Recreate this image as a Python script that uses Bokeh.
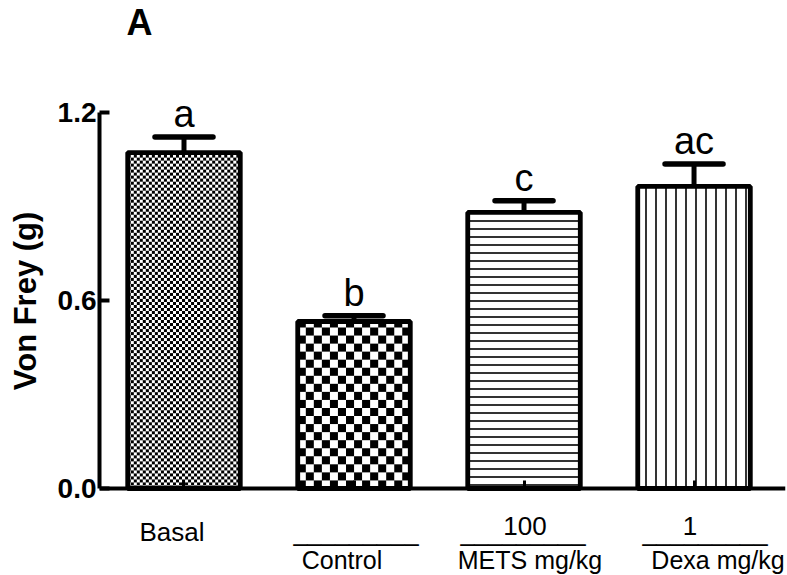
import numpy as np
from bokeh.plotting import figure
from bokeh.models import (ColumnDataSource, LabelSet, Label, Whisker, TeeHead,
                          FixedTicker, Range1d, PrintfTickFormatter,
                          CustomJSTickFormatter)
from bokeh.core.properties import value
from bokeh.embed import file_html
from bokeh.resources import INLINE

# ---- data ----
groups = ["Basal", "Control", "METS", "Dexa"]
means = [1.072, 0.533, 0.881, 0.964]
sems = [0.050, 0.018, 0.037, 0.072]
letters = ["a", "b", "c", "ac"]
doses = ["", "", "100", "1"]
names = ["", "Control", "METS mg/kg", "Dexa mg/kg"]
y_ticks = [0.0, 0.6, 1.2]

# ---- layout / style (not data) ----
W, H = 787, 575
FRAME_L, FRAME_R = 99, 785
X_START, X_END = -0.497, 3.538
Y_START, Y_END = -0.2777, 1.5575
BAR_W = 0.662
FONT = "Liberation Sans"
name_shift = [0, -12, 6, 24]
line_shift = [0, 2, -1, 11]
dose_shift = [0, 0, 1, -4]

px_x = (FRAME_R - FRAME_L) / (X_END - X_START)
px_y = H / (Y_END - Y_START)

xs = list(range(len(groups)))
src = ColumnDataSource(dict(
    x=xs, mean=means,
    upper=[m + s for m, s in zip(means, sems)],
    letter=letters,
    fill_alpha=[0, 0, 1, 1],
    pat=[" ", " ", "-", "|"],
    pscale=[8, 8, 8, 10],
))


def checker(cell, w_units, h_units):
    nx = int(round(w_units * px_x))
    ny = int(round(h_units * px_y))
    yy, xx = np.mgrid[0:ny, 0:nx]
    black = ((yy // cell + xx // cell) % 2) == 0
    img = np.empty((ny, nx), dtype=np.uint32)
    view = img.view(dtype=np.uint8).reshape((ny, nx, 4))
    view[..., 0:3] = np.where(black[..., None], 0, 255)
    view[..., 3] = 255
    return img


chk_idx = [0, 1]
chk_cells = [3, 8]
img_src = ColumnDataSource(dict(
    image=[checker(c, BAR_W, means[i]) for i, c in zip(chk_idx, chk_cells)],
    x=[xs[i] - BAR_W / 2 for i in chk_idx],
    y=[0, 0],
    dw=[BAR_W, BAR_W],
    dh=[means[i] for i in chk_idx],
))

p = figure(width=W, height=H, output_backend="svg", toolbar_location=None,
           x_range=Range1d(X_START, X_END), y_range=Range1d(Y_START, Y_END),
           min_border_left=FRAME_L, min_border_right=W - FRAME_R,
           min_border_top=0, min_border_bottom=0)
p.outline_line_color = None
p.xgrid.visible = False
p.ygrid.visible = False
p.background_fill_color = "white"
p.border_fill_color = "white"

p.image_rgba(image="image", x="x", y="y", dw="dw", dh="dh", source=img_src)

p.vbar(x="x", top="mean", width=BAR_W, source=src,
       fill_color="white", fill_alpha="fill_alpha",
       line_color="black", line_width=4.8,
       hatch_pattern="pat", hatch_scale="pscale", hatch_color="black",
       hatch_weight=1.6)

whisk = Whisker(base="x", lower="mean", upper="upper", source=src,
                line_width=5, line_color="black",
                upper_head=TeeHead(size=58, line_width=5.5, line_color="black",
                                   line_cap="round"),
                lower_head=None, level="glyph")
p.add_layout(whisk)

# significance letters
p.add_layout(LabelSet(x="x", y="upper", text="letter", source=src,
                      y_offset=10, text_align="center", text_baseline="alphabetic",
                      text_font=value(FONT), text_font_size="38px", text_color="black"))


def row_source(texts, shifts):
    keep = [i for i, t in enumerate(texts) if t]
    return ColumnDataSource(dict(x=[xs[i] for i in keep],
                                 text=[texts[i] for i in keep],
                                 dx=[shifts[i] for i in keep]))


basal_src = row_source([groups[0], "", "", ""], [-12, 0, 0, 0])
dose_src = row_source(doses, dose_shift)
line_src = row_source(["", "_________", "_________", "_________"], line_shift)
name_src = row_source(names, name_shift)

common = dict(text_font=value(FONT), text_color="black", x_offset="dx",
              text_align="center")
p.add_layout(LabelSet(x="x", y=-0.1404, text="text", source=basal_src,
                      text_baseline="middle", text_font_size="26px", **common))
p.add_layout(LabelSet(x="x", y=-0.1213, text="text", source=dose_src,
                      text_baseline="middle", text_font_size="26px", **common))
p.add_layout(LabelSet(x="x", y=-0.166, text="text", source=line_src,
                      text_baseline="alphabetic", text_font_size="25px", **common))
p.add_layout(LabelSet(x="x", y=-0.2585, text="text", source=name_src,
                      text_baseline="alphabetic", text_font_size="25px", **common))

# panel letter
p.add_layout(Label(x=-0.262, y=1.487, text="A", text_align="center",
                   text_baseline="middle", text_font=FONT, text_font_size="36px",
                   text_font_style="bold", text_color="black"))

# axes
p.yaxis.bounds = (y_ticks[0], y_ticks[-1])
p.yaxis.ticker = FixedTicker(ticks=y_ticks)
p.yaxis.formatter = PrintfTickFormatter(format="%.1f")
p.yaxis.minor_tick_line_color = None
p.yaxis.axis_line_width = 4
p.yaxis.major_tick_line_width = 4
p.yaxis.major_tick_in = 10
p.yaxis.major_tick_out = 0
p.yaxis.major_label_standoff = 3
p.yaxis.major_label_text_font = FONT
p.yaxis.major_label_text_font_size = "28px"
p.yaxis.major_label_text_font_style = "bold"
p.yaxis.major_label_text_color = "black"
# trailing no-break spaces nudge the centred vertical title down to mid-axis
p.yaxis.axis_label = "Von Frey (g)\u00a0\u00a0\u00a0"
p.yaxis.axis_label_text_font = FONT
p.yaxis.axis_label_text_font_size = "31px"
p.yaxis.axis_label_text_font_style = "bold"
p.yaxis.axis_label_text_color = "black"
p.yaxis.axis_label_standoff = 12

p.xaxis.fixed_location = 0
p.xaxis.ticker = FixedTicker(ticks=xs)
p.xaxis.formatter = CustomJSTickFormatter(code="return ''")
p.xaxis.minor_tick_line_color = None
p.xaxis.axis_line_width = 4
p.xaxis.major_tick_line_width = 3
p.xaxis.major_tick_in = 8
p.xaxis.major_tick_out = 0
p.xaxis.major_label_standoff = 0

open("out.html", "w").write(file_html(p, INLINE))
